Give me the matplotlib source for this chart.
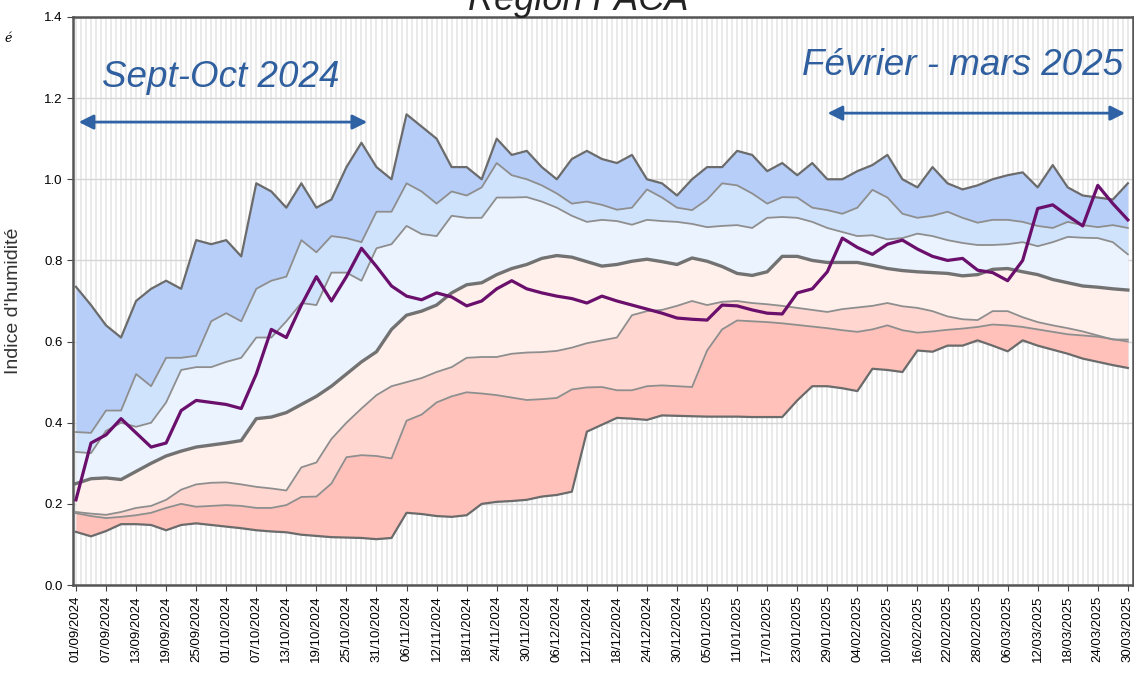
import matplotlib
matplotlib.use('Agg')
from matplotlib import pyplot as plt
import numpy as np
import pandas as pd

plt.rcParams['font.family'] = ['Liberation Sans', 'DejaVu Sans']

# grille de dates (tous les 3 jours)
dates = pd.date_range('2024-09-01', '2025-03-30', freq='3D')

vmax = [0.735, 0.69, 0.64, 0.61, 0.70, 0.73, 0.75, 0.73, 0.85, 0.84,
        0.85, 0.81, 0.99, 0.97, 0.93, 0.99, 0.93, 0.95, 1.03, 1.09,
        1.03, 1.00, 1.16, 1.13, 1.10, 1.03, 1.03, 1.00, 1.10, 1.06,
        1.07, 1.03, 1.00, 1.05, 1.07, 1.05, 1.04, 1.06, 1.00, 0.99,
        0.96, 1.00, 1.03, 1.03, 1.07, 1.06, 1.02, 1.04, 1.01, 1.04,
        1.00, 1.00, 1.02, 1.035, 1.06, 1.00, 0.98, 1.03, 0.99, 0.975,
        0.985, 1.00, 1.01, 1.017, 0.98, 1.035, 0.98, 0.96, 0.955, 0.95,
        0.99]

q90 = [0.377, 0.375, 0.43, 0.43, 0.52, 0.49, 0.56, 0.56, 0.565, 0.65,
       0.67, 0.65, 0.73, 0.75, 0.76, 0.85, 0.82, 0.86, 0.855, 0.845,
       0.92, 0.92, 0.99, 0.97, 0.94, 0.97, 0.96, 0.98, 1.04, 1.01,
       1.00, 0.985, 0.965, 0.94, 0.945, 0.937, 0.925, 0.93, 0.975, 0.955,
       0.93, 0.924, 0.95, 0.99, 0.985, 0.965, 0.94, 0.956, 0.955, 0.93,
       0.924, 0.915, 0.93, 0.974, 0.955, 0.915, 0.905, 0.91, 0.92, 0.905,
       0.893, 0.90, 0.90, 0.895, 0.885, 0.88, 0.895, 0.887, 0.882, 0.887,
       0.88]

q75 = [0.328, 0.325, 0.38, 0.40, 0.39, 0.40, 0.45, 0.53, 0.537, 0.537,
       0.55, 0.56, 0.61, 0.61, 0.65, 0.695, 0.69, 0.77, 0.77, 0.75,
       0.83, 0.84, 0.885, 0.865, 0.86, 0.91, 0.905, 0.905, 0.955, 0.955,
       0.956, 0.945, 0.93, 0.91, 0.895, 0.90, 0.897, 0.888, 0.90, 0.897,
       0.895, 0.89, 0.882, 0.885, 0.887, 0.88, 0.905, 0.907, 0.905, 0.895,
       0.88, 0.87, 0.86, 0.862, 0.852, 0.855, 0.866, 0.86, 0.85, 0.843,
       0.838, 0.838, 0.84, 0.845, 0.835, 0.845, 0.858, 0.856, 0.855, 0.845,
       0.815]

mediane = [0.25, 0.262, 0.264, 0.26, 0.28, 0.30, 0.318, 0.33, 0.34, 0.345,
           0.35, 0.356, 0.41, 0.414, 0.425, 0.445, 0.465, 0.49, 0.52, 0.55,
           0.575, 0.63, 0.665, 0.675, 0.69, 0.72, 0.74, 0.745, 0.765, 0.78,
           0.79, 0.805, 0.812, 0.808, 0.797, 0.786, 0.79, 0.798, 0.803, 0.797,
           0.79, 0.806, 0.798, 0.785, 0.768, 0.763, 0.772, 0.81, 0.81, 0.80,
           0.795, 0.795, 0.795, 0.788, 0.78, 0.775, 0.772, 0.77, 0.768, 0.762,
           0.765, 0.778, 0.78, 0.772, 0.765, 0.753, 0.745, 0.737, 0.734, 0.73,
           0.727]

q25 = [0.18, 0.176, 0.173, 0.18, 0.19, 0.195, 0.21, 0.235, 0.248, 0.252,
       0.253, 0.248, 0.242, 0.238, 0.233, 0.29, 0.302, 0.36, 0.40, 0.435,
       0.468, 0.49, 0.50, 0.51, 0.525, 0.537, 0.56, 0.562, 0.562, 0.57,
       0.573, 0.574, 0.577, 0.585, 0.596, 0.603, 0.61, 0.665, 0.675, 0.678,
       0.688, 0.70, 0.69, 0.698, 0.70, 0.695, 0.692, 0.688, 0.683, 0.678,
       0.673, 0.68, 0.684, 0.688, 0.695, 0.687, 0.683, 0.675, 0.662, 0.655,
       0.653, 0.675, 0.675, 0.66, 0.648, 0.64, 0.633, 0.625, 0.615, 0.605,
       0.605]

q10 = [0.177, 0.17, 0.165, 0.168, 0.172, 0.178, 0.19, 0.20, 0.193, 0.195,
       0.197, 0.195, 0.19, 0.19, 0.197, 0.217, 0.218, 0.25, 0.315, 0.32,
       0.318, 0.312, 0.405, 0.42, 0.45, 0.465, 0.475, 0.472, 0.468, 0.462,
       0.456, 0.458, 0.461, 0.482, 0.487, 0.488, 0.48, 0.48, 0.49, 0.492,
       0.49, 0.488, 0.578, 0.63, 0.652, 0.65, 0.648, 0.645, 0.641, 0.637,
       0.633, 0.628, 0.624, 0.63, 0.64, 0.628, 0.622, 0.625, 0.629, 0.632,
       0.636, 0.642, 0.64, 0.636, 0.63, 0.624, 0.618, 0.615, 0.612, 0.606,
       0.60]

vmin = [0.131, 0.12, 0.133, 0.15, 0.15, 0.148, 0.135, 0.148, 0.152, 0.148,
        0.144, 0.14, 0.135, 0.132, 0.13, 0.124, 0.121, 0.118, 0.117, 0.116,
        0.113, 0.116, 0.178, 0.175, 0.17, 0.168, 0.172, 0.20, 0.205, 0.207,
        0.21, 0.218, 0.222, 0.23, 0.378, 0.395, 0.412, 0.41, 0.407, 0.418,
        0.417, 0.416, 0.415, 0.415, 0.415, 0.414, 0.414, 0.414, 0.455, 0.49,
        0.49, 0.485, 0.478, 0.533, 0.53, 0.525, 0.578, 0.575, 0.59, 0.59,
        0.603, 0.59, 0.576, 0.603, 0.59, 0.58, 0.57, 0.558, 0.55, 0.542,
        0.535]

# saison 2024-2025
saison = [0.21, 0.35, 0.37, 0.41, 0.375, 0.34, 0.35, 0.43, 0.455, 0.45,
          0.445, 0.435, 0.52, 0.63, 0.61, 0.69, 0.76, 0.70, 0.76, 0.83,
          0.785, 0.737, 0.712, 0.703, 0.72, 0.71, 0.688, 0.70, 0.73, 0.75,
          0.73, 0.72, 0.712, 0.706, 0.695, 0.712, 0.70, 0.69, 0.68, 0.67,
          0.658, 0.655, 0.653, 0.69, 0.688, 0.678, 0.67, 0.668, 0.72, 0.73,
          0.772, 0.855, 0.832, 0.815, 0.84, 0.85, 0.828, 0.81, 0.80, 0.805,
          0.776, 0.77, 0.75, 0.80, 0.928, 0.937, 0.91, 0.885, 0.985, 0.94,
          0.90]

fig = plt.figure(figsize=(11.34, 6.79), dpi=100)
ax = fig.add_axes([0.0644, 0.1384, 0.9346, 0.8366])

t0 = pd.Timestamp('2024-09-01')
for d in pd.date_range('2024-09-01', '2025-03-31', freq='D'):
    ax.axvline(d, color='#e4e4e4', lw=1.1, zorder=0)
ax.set_axisbelow(True)
ax.yaxis.grid(True, color='#d6d6d6', lw=1)

bands = [(vmax, q90, '#b7cef8'), (q90, q75, '#d0e3fd'), (q75, mediane, '#ebf3ff'),
         (mediane, q25, '#fff0ec'), (q25, q10, '#ffd7d0'), (q10, vmin, '#ffc1b9')]
for hi, lo, c in bands:
    ax.fill_between(dates, lo, hi, color=c, lw=0, zorder=1)

ax.plot(dates, vmax, color='#6b6b6b', lw=1.6, zorder=2)
ax.plot(dates, q90, color='#8e8e8e', lw=1.3, zorder=2)
ax.plot(dates, q75, color='#8e8e8e', lw=1.3, zorder=2)
ax.plot(dates, mediane, color='#727272', lw=2.4, zorder=2)
ax.plot(dates, q25, color='#8e8e8e', lw=1.3, zorder=2)
ax.plot(dates, q10, color='#8e8e8e', lw=1.3, zorder=2)
ax.plot(dates, vmin, color='#6b6b6b', lw=1.6, zorder=2)
ax.plot(dates, saison, color='#6a0f6c', lw=2.3, zorder=3)

ax.set_ylim(0, 1.4)
ax.set_yticks(np.arange(0, 1.41, 0.2))
ax.yaxis.set_major_formatter(matplotlib.ticker.FormatStrFormatter('%.1f'))
ax.set_xlim(t0 - pd.Timedelta(hours=14), t0 + pd.Timedelta(days=211))
ticks = pd.date_range('2024-09-01', '2025-03-30', freq='6D')
ax.set_xticks(ticks)
ax.set_xticklabels([t.strftime('%d/%m/%Y') for t in ticks], rotation=90, fontsize=9.5)
ax.tick_params(axis='y', labelsize=9.5, length=4, color='#444444')
ax.tick_params(axis='x', length=4, color='#444444')
for s in ax.spines.values():
    s.set_color('#555555')
    s.set_linewidth(1.8)
ax.set_ylabel("Indice d'humidité", fontsize=14, color='#333333', labelpad=16)

# periodes
bleu = '#2e62a4'
ax.annotate('', xy=(t0 + pd.Timedelta(days=58.7), 1.141), xytext=(t0, 1.141),
            arrowprops=dict(arrowstyle='<|-|>', color=bleu, lw=2, mutation_scale=22))
ax.text(t0 + pd.Timedelta(days=29), 1.25, 'Sept-Oct 2024', fontsize=26.5, style='italic',
        color='#2f5f9e', ha='center', va='center')
ax.annotate('', xy=(t0 + pd.Timedelta(days=210), 1.163), xytext=(t0 + pd.Timedelta(days=149.5), 1.163),
            arrowprops=dict(arrowstyle='<|-|>', color=bleu, lw=2, mutation_scale=22))
ax.text(t0 + pd.Timedelta(days=177), 1.28, 'Février - mars 2025', fontsize=26.5, style='italic',
        color='#2f5f9e', ha='center', va='center')

fig.text(0.51, 1 - 10 / 679, 'Région PACA', fontsize=26, style='italic', ha='center',
         va='baseline', color='#222222')
fig.text(0.004, 1 - 42 / 679, 'é', fontsize=9, style='italic', family='serif')

fig.savefig('out.png', dpi=100)
